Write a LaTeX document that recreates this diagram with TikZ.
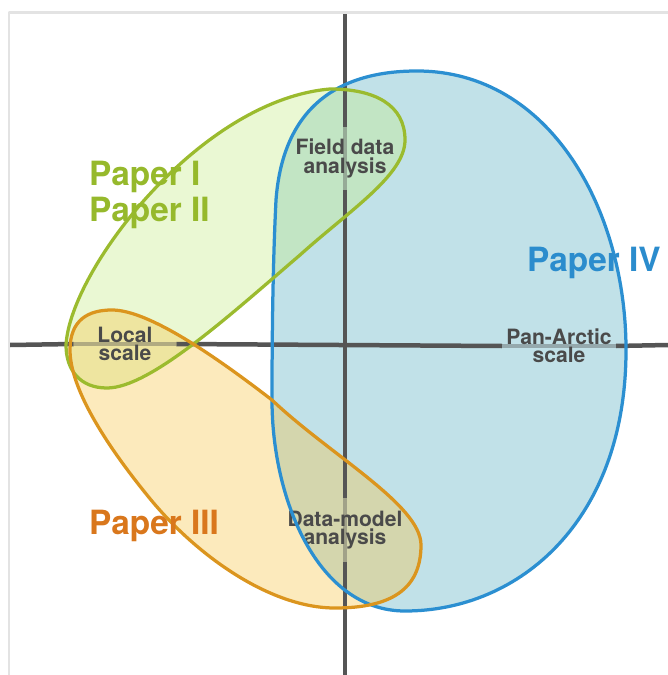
\documentclass[tikz,border=0pt]{standalone}
\usepackage{fontspec}
\setmainfont{TeX Gyre Heros}

\definecolor{axisgray}{HTML}{555555}
\definecolor{framegray}{HTML}{E3E3E3}
\definecolor{labelgray}{HTML}{4A4A4A}
\definecolor{greenline}{HTML}{9BBB2E}
\definecolor{greentext}{HTML}{96B92C}
\definecolor{greenfill}{HTML}{C5EC89}
\definecolor{orangeline}{HTML}{DB951E}
\definecolor{orangetext}{HTML}{D9771C}
\definecolor{orangefill}{HTML}{F7C548}
\definecolor{blueline}{HTML}{2B8FD1}
\definecolor{bluetext}{HTML}{2B8CCD}
\definecolor{bluefill}{HTML}{C1E1E8}

\pgfdeclarelayer{fills}
\pgfdeclarelayer{axes}
\pgfsetlayers{fills,axes,main}

\newcommand{\blobI}{(66,345) .. controls (70,270) and (200,100) .. (330,89) .. controls (375,89) and (405,105) .. (405,140) .. controls (405,175) and (350,210) .. (300,255) .. controls (230,315) and (150,388) .. (107,388) .. controls (80,388) and (66,370) .. (66,345) -- cycle}
\newcommand{\blobIII}{(70,350) .. controls (70,320) and (88,310) .. (112,310) .. controls (150,310) and (220,360) .. (272,400) .. controls (330,455) and (421,505) .. (421,545) .. controls (421,590) and (390,608) .. (335,608) .. controls (270,608) and (195,555) .. (147,495) .. controls (100,437) and (70,385) .. (70,350) -- cycle}
\newcommand{\blobIV}{(417,71) .. controls (550,71) and (626,210) .. (626,350) .. controls (626,520) and (520,611) .. (405,611) .. controls (318,611) and (272,500) .. (272,400) .. controls (272,330) and (273,260) .. (276,200) .. controls (282,120) and (325,71) .. (417,71) -- cycle}

\begin{document}
\begin{tikzpicture}[x=0.02cm, y=-0.02cm, line join=round,
    blob/.style={line width=0.065cm},
    axis/.style={draw=axisgray, line width=0.09cm},
    axisfaint/.style={axis, draw opacity=0.4},
    axlabel/.style={align=center, text=labelgray, font=\fontsize{12}{10.5}\selectfont\bfseries, minimum width=2.04cm, minimum height=1.26cm, inner xsep=0.08cm, inner ysep=0cm},
    paperlabel/.style={anchor=base west, font=\fontsize{19}{20}\selectfont\bfseries}]
    \useasboundingbox (0,0) rectangle (668,675);
    \draw[framegray, line width=0.06cm] (9,675) -- (9,12.5) -- (668,12.5);
    \begin{pgfonlayer}{fills}
        \fill[bluefill] \blobIV;
        \fill[greenfill, fill opacity=0.37] \blobI;
        \fill[orangefill, fill opacity=0.37] \blobIII;
    \end{pgfonlayer}
    \coordinate (hleft) at (10,345);
    \coordinate (hright) at (668,345);
    \coordinate (vtop) at (345,14);
    \coordinate (vbottom) at (345,675);
    \node[axlabel] (fielddata) at (345,158.5) {Field data\\analysis};
    \node[axlabel] (datamodel) at (345,530) {Data-model\\analysis};
    \node[axlabel] (localscale) at (125,344) {Local\\scale};
    \node[axlabel] (panarctic) at (559,346) {Pan-Arctic\\scale};
    \begin{pgfonlayer}{axes}
        \draw[axis] (hleft) -- (localscale.west);
        \draw[axisfaint] (localscale.west) -- (localscale.east);
        \draw[axis] (localscale.east) -- (panarctic.west);
        \draw[axisfaint] (panarctic.west) -- (panarctic.east);
        \draw[axis] (panarctic.east) -- (hright);
        \draw[axis] (vtop) -- (fielddata.north);
        \draw[axisfaint] (fielddata.north) -- (fielddata.south);
        \draw[axis] (fielddata.south) -- (datamodel.north);
        \draw[axisfaint] (datamodel.north) -- (datamodel.south);
        \draw[axis] (datamodel.south) -- (vbottom);
    \end{pgfonlayer}
    \draw[blob, blueline] \blobIV;
    \draw[blob, greenline] \blobI;
    \draw[blob, orangeline] \blobIII;
    \node[paperlabel, text=greentext] (paperI) at (83,186) {Paper I};
    \node[paperlabel, text=greentext] (paperII) at (83,222) {Paper II};
    \node[paperlabel, text=orangetext] (paperIII) at (83,534) {Paper III};
    \node[paperlabel, text=bluetext] (paperIV) at (521,272) {Paper IV};
\end{tikzpicture}
\end{document}
